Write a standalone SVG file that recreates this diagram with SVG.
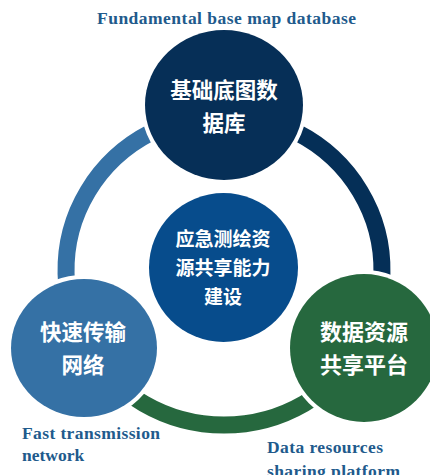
<svg xmlns="http://www.w3.org/2000/svg" width="430" height="475" viewBox="0 0 430 475">
<style>
.ring{fill:none;stroke-width:17}
.node{stroke:#fff;stroke-width:8;paint-order:stroke}
.zh{font-family:"Noto Sans CJK SC","Noto Sans",sans-serif;font-weight:bold;fill:#fff;text-anchor:middle}
.en{font-family:"Liberation Serif","Times New Roman",serif;font-weight:bold;fill:#215a8c;font-size:17.5px}
</style>
<rect width="430" height="475" fill="#fff"/>
<g id="connectors">
<path class="ring" stroke="#3571a5" d="M 85.8 345.1 A 158 155 0 0 1 224 115"/>
<path class="ring" stroke="#052f57" d="M 224 115 A 158 155 0 0 1 362.2 345.1"/>
<path class="ring" stroke="#26683e" d="M 362.2 345.1 A 158 155 0 0 1 85.8 345.1"/>
</g>
<g id="title">
<text class="en" x="97" y="24" textLength="259" lengthAdjust="spacing">Fundamental base map database</text>
</g>
<g id="node-top">
<ellipse class="node" cx="224" cy="105" rx="79" ry="75" fill="#062f57"/>
<text class="zh" x="224" y="98" font-size="21.5">基础底图数</text>
<text class="zh" x="224" y="131" font-size="21.5">据库</text>
</g>
<g id="node-center">
<circle cx="223.5" cy="267.5" r="74.5" fill="#074c8c"/>
<text class="zh" x="223" y="246" font-size="19">应急测绘资</text>
<text class="zh" x="223" y="275" font-size="19">源共享能力</text>
<text class="zh" x="223" y="304" font-size="19">建设</text>
</g>
<g id="node-left">
<ellipse class="node" cx="84" cy="348" rx="73" ry="69" fill="#3571a5"/>
<text class="zh" x="83" y="340" font-size="21.5">快速传输</text>
<text class="zh" x="83" y="373" font-size="21.5">网络</text>
<text class="en" x="22" y="439" textLength="138" lengthAdjust="spacing">Fast transmission</text>
<text class="en" x="22" y="461">network</text>
</g>
<g id="node-right">
<circle class="node" cx="364" cy="348" r="74" fill="#26683e"/>
<text class="zh" x="364" y="340" font-size="22">数据资源</text>
<text class="zh" x="364" y="373" font-size="22">共享平台</text>
<text class="en" x="267" y="453" textLength="116" lengthAdjust="spacing">Data resources</text>
<text class="en" x="267" y="477" textLength="133" lengthAdjust="spacing">sharing platform</text>
</g>
</svg>
